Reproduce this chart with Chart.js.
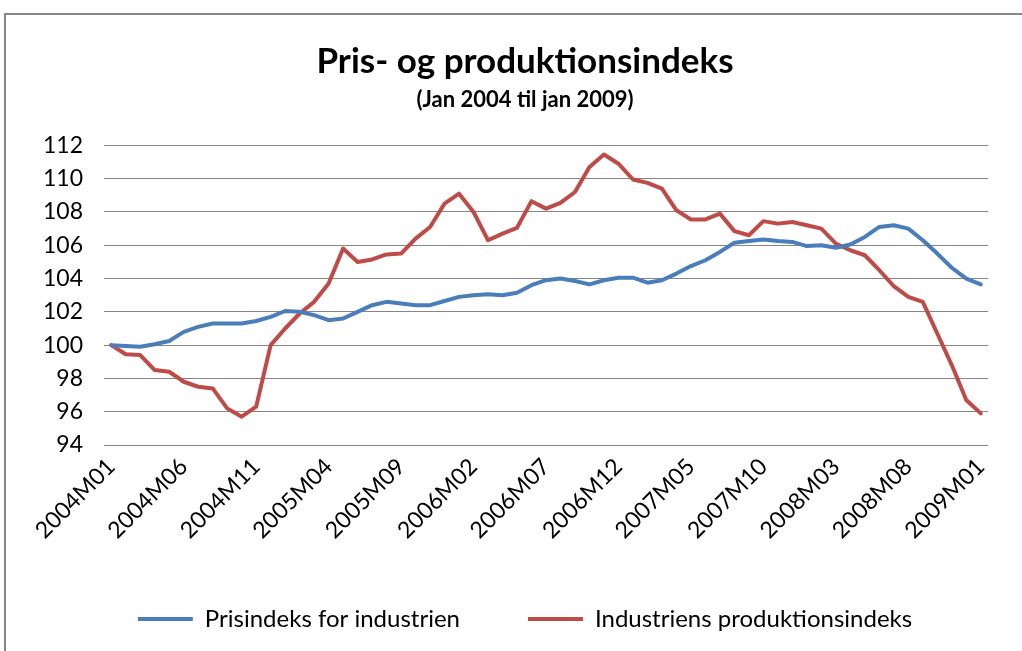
<!DOCTYPE html>
<html>
<head>
<meta charset="utf-8">
<script src="https://cdn.jsdelivr.net/npm/chart.js@4.4.1/dist/chart.umd.min.js"></script>
<style>
  html, body { margin: 0; padding: 0; background: #ffffff; overflow: hidden; width: 1022px; height: 651px; }
  #frame { position: absolute; left: 4px; top: 13px; width: 1100px; height: 700px; border: 2px solid #868686; }
  #c { position: absolute; left: 0; top: 0; }
</style>
</head>
<body>
<div id="frame"></div>
<canvas id="c" width="1022" height="651"></canvas>
<script>
const months = [
  '2004M01','2004M02','2004M03','2004M04','2004M05','2004M06','2004M07','2004M08','2004M09','2004M10','2004M11','2004M12',
  '2005M01','2005M02','2005M03','2005M04','2005M05','2005M06','2005M07','2005M08','2005M09','2005M10','2005M11','2005M12',
  '2006M01','2006M02','2006M03','2006M04','2006M05','2006M06','2006M07','2006M08','2006M09','2006M10','2006M11','2006M12',
  '2007M01','2007M02','2007M03','2007M04','2007M05','2007M06','2007M07','2007M08','2007M09','2007M10','2007M11','2007M12',
  '2008M01','2008M02','2008M03','2008M04','2008M05','2008M06','2008M07','2008M08','2008M09','2008M10','2008M11','2008M12',
  '2009M01'
];

const tickLabels = ['2004M01','2004M06','2004M11','2005M04','2005M09','2006M02','2006M07','2006M12','2007M05','2007M10','2008M03','2008M08','2009M01'];

const prisindeks = [
  100.0, 99.95, 99.9, 100.05, 100.25, 100.8, 101.1, 101.3, 101.3, 101.3, 101.45, 101.7,
  102.05, 102.0, 101.8, 101.5, 101.6, 102.0, 102.4, 102.6, 102.5, 102.4, 102.4, 102.65,
  102.9, 103.0, 103.05, 103.0, 103.15, 103.6, 103.9, 104.0, 103.85, 103.65, 103.9, 104.05,
  104.05, 103.75, 103.9, 104.3, 104.75, 105.1, 105.6, 106.15, 106.25, 106.35, 106.25, 106.2,
  105.95, 106.0, 105.85, 106.05, 106.5, 107.1, 107.2, 107.0, 106.3, 105.5, 104.65, 104.0,
  103.65
];

const produktionsindeks = [
  100.0, 99.45, 99.4, 98.5, 98.4, 97.8, 97.5, 97.4, 96.2, 95.7, 96.3, 100.0,
  101.0, 101.9, 102.6, 103.7, 105.8, 105.0, 105.15, 105.45, 105.5, 106.4, 107.1, 108.5,
  109.1, 108.0, 106.3, 106.7, 107.05, 108.65, 108.2, 108.55, 109.2, 110.7, 111.45, 110.9,
  109.95, 109.75, 109.4, 108.1, 107.55, 107.55, 107.9, 106.85, 106.6, 107.45, 107.3, 107.4,
  107.2, 107.0, 106.1, 105.7, 105.4, 104.5, 103.55, 102.9, 102.6, 100.7, 98.8, 96.7,
  95.9
];

const seriesNames = ['Prisindeks for industrien', 'Industriens produktionsindeks'];
const titleText = 'Pris- og produktionsindeks';
const subtitleText = '(Jan 2004 til jan 2009)';
const yMin = 94, yMax = 112, yStep = 2;

const FONT = "Lato, 'Open Sans', 'DejaVu Sans', sans-serif";

// let the y tick labels extend left of the (narrow) axis box without being clipped
const unclipY = {
  id: 'unclipY',
  afterLayout(chart) {
    const y = chart.scales.y;
    y.left = 0;
  }
};

new Chart(document.getElementById('c'), {
  type: 'line',
  data: {
    labels: months,
    datasets: [
      {
        label: seriesNames[0],
        data: prisindeks,
        borderColor: '#4A7EBB',
        backgroundColor: '#4A7EBB',
        borderWidth: 4,
        pointRadius: 0,
        tension: 0,
        borderCapStyle: 'round',
        borderJoinStyle: 'round'
      },
      {
        label: seriesNames[1],
        data: produktionsindeks,
        borderColor: '#BE4B48',
        backgroundColor: '#BE4B48',
        borderWidth: 4,
        pointRadius: 0,
        tension: 0,
        borderCapStyle: 'round',
        borderJoinStyle: 'round'
      }
    ]
  },
  plugins: [unclipY],
  options: {
    responsive: false,
    animation: false,
    devicePixelRatio: 1,
    layout: { padding: { left: 62, right: 34, top: 0, bottom: 10 } },
    plugins: {
      tooltip: { enabled: false },
      title: {
        display: true,
        text: titleText,
        color: '#000000',
        font: { family: FONT, size: 35, weight: 'bold', lineHeight: 1.2 },
        padding: { top: 41, bottom: 0 }
      },
      subtitle: {
        display: true,
        text: subtitleText,
        color: '#000000',
        font: { family: FONT, size: 22, weight: 'bold', lineHeight: 1.2 },
        padding: { top: 4, bottom: 32 }
      },
      legend: {
        display: true,
        position: 'bottom',
        labels: {
          usePointStyle: true,
          pointStyle: 'line',
          pointStyleWidth: 55,
          boxWidth: 55,
          padding: 68,
          color: '#000000',
          font: { family: FONT, size: 24 }
        }
      }
    },
    scales: {
      x: {
        type: 'category',
        offset: true,
        grid: { display: false, drawTicks: false },
        border: { display: false },
        ticks: {
          autoSkip: false,
          minRotation: 45,
          maxRotation: 45,
          padding: 8,
          color: '#000000',
          font: { family: FONT, size: 23 },
          callback: function(value, index) {
            const lab = this.getLabelForValue(value);
            return tickLabels.includes(lab) ? lab : '';
          }
        },
        afterFit: function(scale) { scale.height = 94; }
      },
      y: {
        min: yMin,
        max: yMax,
        grid: { color: '#868686', lineWidth: 1, drawTicks: false },
        border: { display: false },
        ticks: {
          stepSize: yStep,
          padding: 21,
          color: '#000000',
          font: { family: FONT, size: 23 }
        },
        afterFit: function(scale) { scale.width = 42; }
      }
    }
  }
});
</script>
</body>
</html>
